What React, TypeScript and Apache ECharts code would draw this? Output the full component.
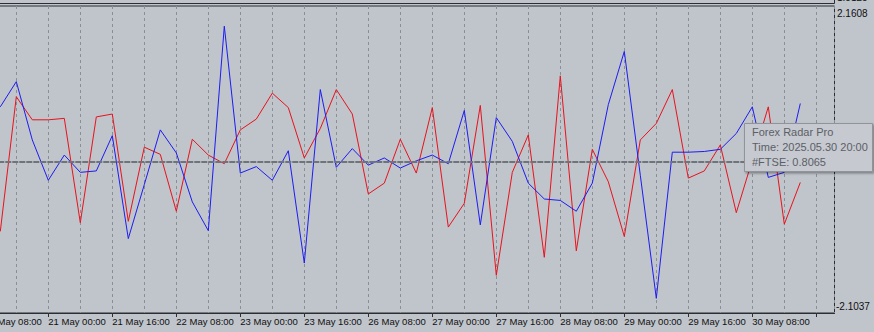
import { useEffect, useRef } from "react";
import * as echarts from "echarts";

// Bar times (H4). Index 0 is the bar just left of the visible area; the series start at index 1.
const axisTimes = [
  "2025.05.20 08:00", "2025.05.20 12:00", "2025.05.20 16:00", "2025.05.20 20:00",
  "2025.05.21 00:00", "2025.05.21 04:00", "2025.05.21 08:00", "2025.05.21 12:00", "2025.05.21 16:00", "2025.05.21 20:00",
  "2025.05.22 00:00", "2025.05.22 04:00", "2025.05.22 08:00", "2025.05.22 12:00", "2025.05.22 16:00", "2025.05.22 20:00",
  "2025.05.23 00:00", "2025.05.23 04:00", "2025.05.23 08:00", "2025.05.23 12:00", "2025.05.23 16:00", "2025.05.23 20:00",
  "2025.05.26 00:00", "2025.05.26 04:00", "2025.05.26 08:00", "2025.05.26 12:00", "2025.05.26 16:00", "2025.05.26 20:00",
  "2025.05.27 00:00", "2025.05.27 04:00", "2025.05.27 08:00", "2025.05.27 12:00", "2025.05.27 16:00", "2025.05.27 20:00",
  "2025.05.28 00:00", "2025.05.28 04:00", "2025.05.28 08:00", "2025.05.28 12:00", "2025.05.28 16:00", "2025.05.28 20:00",
  "2025.05.29 00:00", "2025.05.29 04:00", "2025.05.29 08:00", "2025.05.29 12:00", "2025.05.29 16:00", "2025.05.29 20:00",
  "2025.05.30 00:00", "2025.05.30 04:00", "2025.05.30 08:00", "2025.05.30 12:00", "2025.05.30 16:00", "2025.05.30 20:00",
];

// #FTSE (blue)
const ftseValues = [
  0.76, 1.11, 0.30, -0.26, 0.09, -0.15, -0.13, 0.36, -1.07, -0.32,
  0.44, 0.12, -0.56, -0.96, 1.88, -0.16, -0.07, -0.26, 0.15, -1.41,
  1.00, -0.08, 0.18, -0.05, 0.05, -0.09, 0.01, 0.09, -0.03, 0.71,
  -0.88, 0.61, 0.28, -0.30, -0.52, -0.54, -0.69, -0.30, 0.79, 1.53,
  -0.19, -1.90, 0.13, 0.13, 0.14, 0.17, 0.39, 0.76, -0.22, -0.15,
  0.8065,
];

// second line (red)
const redValues = [
  -0.97, 0.90, 0.58, 0.58, 0.60, -0.85, 0.62, 0.66, -0.83, 0.20,
  0.10, -0.69, 0.31, 0.09, -0.03, 0.44, 0.59, 0.95, 0.75, 0.05,
  0.46, 1.00, 0.66, -0.45, -0.30, 0.31, -0.16, 0.75, -0.91, -0.58,
  0.78, -1.58, -0.15, 0.37, -1.33, 1.19, -1.24, 0.17, -0.28, -1.04,
  0.30, 0.53, 1.00, -0.23, -0.13, 0.23, -0.71, 0.02, 0.76, -0.87,
  -0.29,
];

const yRange = [-2.1037, 2.1608];
const zeroLevel = [0];
const upperPanelLabel = "1.5125";
const indicatorName = "Forex Radar Pro";
const symbolName = "#FTSE";
const monthNames = ["Jan", "Feb", "Mar", "Apr", "May", "Jun", "Jul", "Aug", "Sep", "Oct", "Nov", "Dec"];

const BG = "#c0c4cb";
const FRAME = "#2b2e33";
const FONT = "Liberation Sans";
const RED = "#e8121c";
const BLUE = "#1c1cf2";

function axisLabelOf(t: string): string {
  const [d, hm] = t.split(" ");
  const [, m, dd] = d.split(".");
  return `${parseInt(dd, 10)} ${monthNames[parseInt(m, 10) - 1]} ${hm}`;
}

export default function App() {
  const ref = useRef<HTMLDivElement>(null);

  useEffect(() => {
    if (!ref.current) return;
    const chart = echarts.init(ref.current, undefined, { renderer: "svg" });
    const xMax = 850.2 / 16;

    chart.setOption({
      animation: false,
      backgroundColor: BG,
      color: [RED, BLUE],
      textStyle: { fontFamily: FONT },
      grid: {
        show: true,
        left: -15.7,
        right: 39.5,
        top: 6,
        bottom: 19,
        containLabel: false,
        outerBoundsMode: "none",
        borderColor: FRAME,
        borderWidth: 1,
        backgroundColor: "transparent",
      },
      xAxis: [
        {
          type: "value",
          min: 0,
          max: xMax,
          interval: 2,
          axisLine: { show: false },
          axisTick: { show: false },
          axisLabel: { show: false },
          splitLine: { show: true, lineStyle: { color: "#8a8e95", type: [3, 3], width: 1 } },
        },
        {
          type: "value",
          min: 0,
          max: xMax,
          interval: 4,
          position: "bottom",
          axisLine: { show: true, onZero: false, lineStyle: { color: FRAME, width: 1 } },
          axisTick: { show: true, inside: false, length: 4, lineStyle: { color: FRAME } },
          axisLabel: {
            show: true,
            align: "left",
            margin: 3,
            fontSize: 9.5,
            fontFamily: FONT,
            color: "#101010",
            showMaxLabel: false,
            hideOverlap: false,
            formatter: (v: number) => {
              const i = Math.round(v);
              if (Math.abs(v - i) > 1e-6 || i % 4 !== 0 || !axisTimes[i]) return "";
              return axisLabelOf(axisTimes[i]);
            },
          },
          splitLine: { show: false },
        },
      ],
      yAxis: {
        type: "value",
        min: yRange[0],
        max: yRange[1],
        position: "right",
        axisLine: { show: false },
        axisTick: { show: false },
        axisLabel: { show: false },
        splitLine: { show: false },
      },
      series: [
        {
          type: "line",
          name: "level",
          data: [],
          z: 1,
          markLine: {
            silent: true,
            symbol: "none",
            label: { show: false },
            emphasis: { disabled: true },
            lineStyle: { color: "#6f737a", width: 2, type: [6, 1] },
            data: zeroLevel.map((v) => ({ yAxis: v })),
          },
        },
        {
          type: "line",
          name: "Series 2",
          data: redValues.map((v, i) => [i + 1, v]),
          showSymbol: false,
          symbol: "none",
          lineStyle: { color: RED, width: 1 },
          itemStyle: { color: RED },
          emphasis: { disabled: true },
          z: 3,
        },
        {
          type: "line",
          name: symbolName,
          data: ftseValues.map((v, i) => [i + 1, v]),
          showSymbol: false,
          symbol: "none",
          lineStyle: { color: BLUE, width: 1 },
          itemStyle: { color: BLUE },
          emphasis: { disabled: true },
          z: 4,
        },
      ],
    });

    const topY = chart.convertToPixel({ yAxisIndex: 0 }, yRange[1]) as number;
    const botY = chart.convertToPixel({ yAxisIndex: 0 }, yRange[0]) as number;
    const lastIdx = ftseValues.length - 1;
    const lastTime = axisTimes[lastIdx + 1];
    const lastVal = ftseValues[lastIdx].toFixed(4);
    const tipX = 744.5;
    const tipY = 123.5;
    const txt = (text: string, x: number, y: number, size: number, fill: string) => ({
      type: "text",
      x,
      y,
      silent: true,
      z: 100,
      style: { text, fill, fontSize: size, fontFamily: FONT, align: "left", verticalAlign: "middle" },
    });

    chart.setOption({
      graphic: [
        { type: "line", silent: true, z: 100, shape: { x1: 0, y1: 3.5, x2: 834.5, y2: 3.5 }, style: { stroke: FRAME, lineWidth: 1 } },
        { type: "line", silent: true, z: 100, shape: { x1: 834.5, y1: 0, x2: 834.5, y2: 3.5 }, style: { stroke: FRAME, lineWidth: 1 } },
        txt(upperPanelLabel, 837, -3, 10, "#101010"),
        txt(yRange[1].toFixed(4), 837, topY + 7, 10, "#101010"),
        txt(yRange[0].toFixed(4), 836, botY - 7, 10, "#101010"),
        {
          type: "group",
          silent: true,
          z: 100,
          children: [
            {
              type: "rect",
              z: 100,
              shape: { x: tipX, y: tipY, width: 128, height: 48 },
              style: {
                fill: "#c6c9cf",
                stroke: "#8f939a",
                lineWidth: 1,
                shadowColor: "rgba(0,0,0,0.35)",
                shadowBlur: 2,
                shadowOffsetX: 1.5,
                shadowOffsetY: 1.5,
              },
            },
            txt(indicatorName, tipX + 7.5, tipY + 8.5, 11, "#5b5f67"),
            txt(`Time: ${lastTime}`, tipX + 7.5, tipY + 23.5, 11, "#5b5f67"),
            txt(`${symbolName}: ${lastVal}`, tipX + 7.5, tipY + 38, 11, "#5b5f67"),
          ],
        },
      ],
    });

    return () => chart.dispose();
  }, []);

  return (
    <div
      ref={ref}
      style={{ position: "fixed", left: 0, top: 0, width: 874, height: 332 }}
    />
  );
}
